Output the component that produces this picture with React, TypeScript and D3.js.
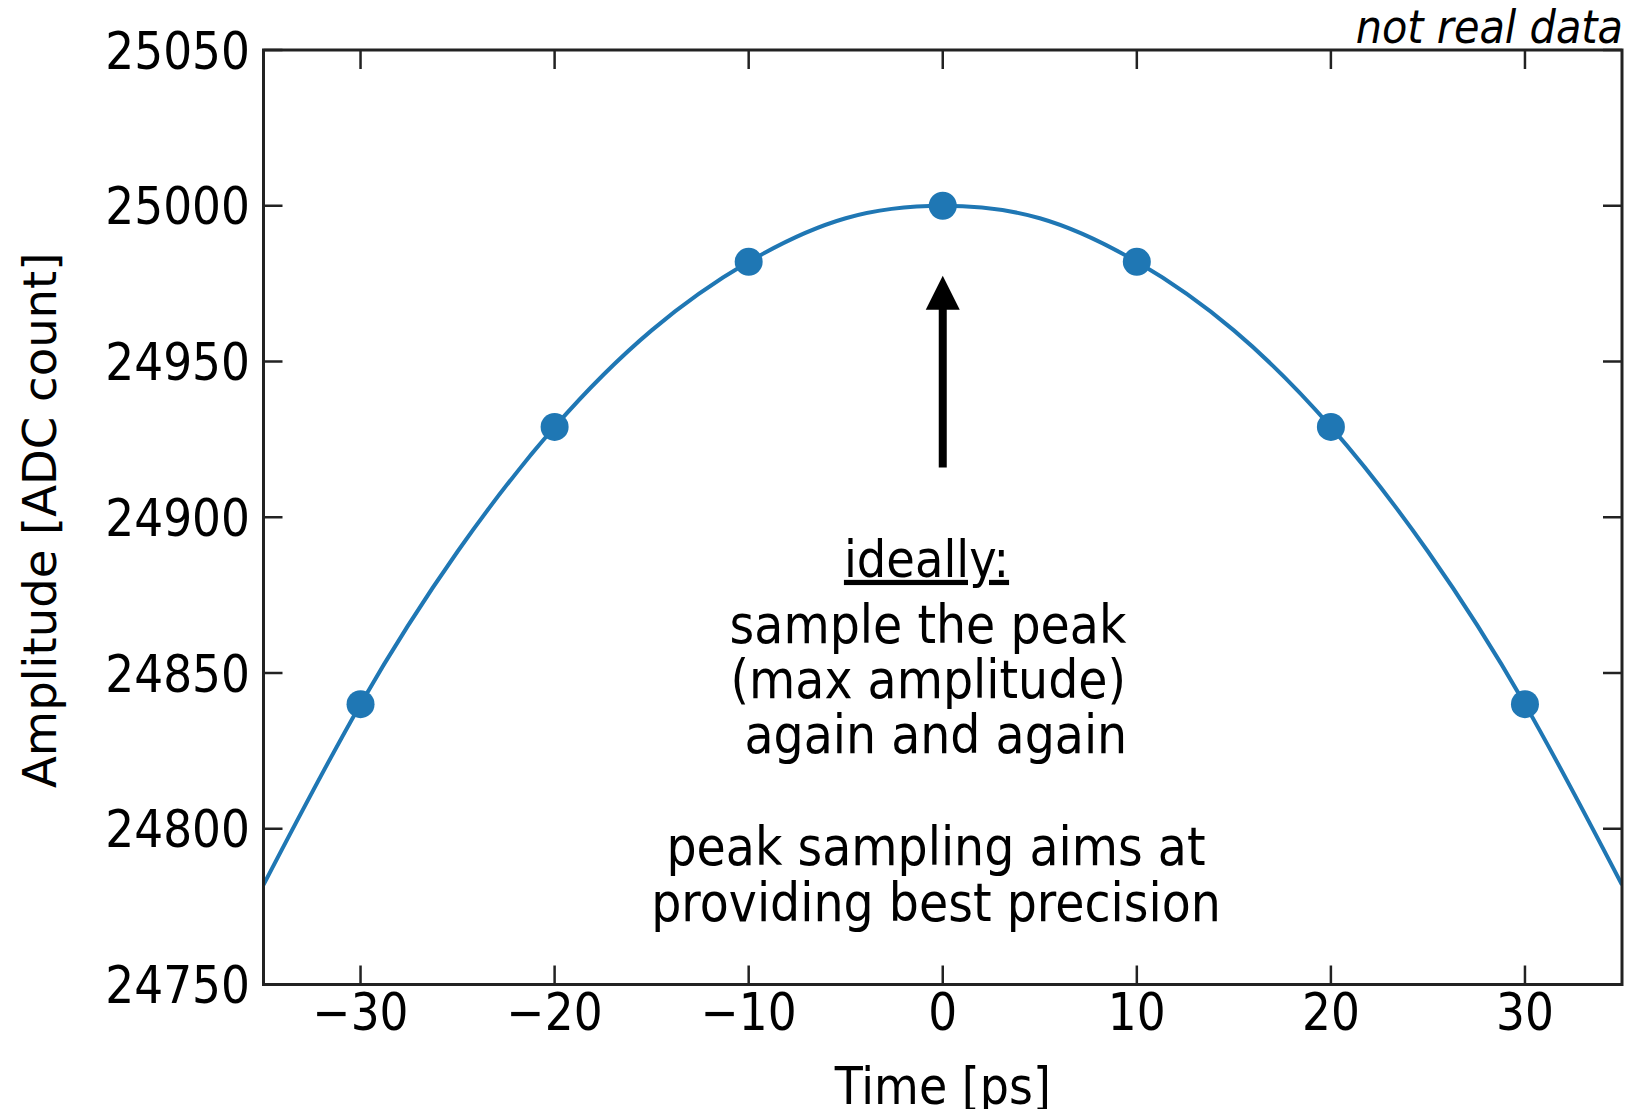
import React from "react";
import * as d3 from "d3";

// ---- data ----
const sampleTimes = [-30, -20, -10, 0, 10, 20, 30];
const sampleAmps = [24840, 24929, 24982, 25000, 24982, 24929, 24840];
const curveTimes = [-35, -30, -25, -20, -15, -10, -5, 0, 5, 10, 15, 20, 25, 30, 35];
const curveAmps = [24782, 24840, 24889, 24929, 24960, 24982, 24996, 25000, 24996, 24982, 24960, 24929, 24889, 24840, 24782];
const xTicks = [-30, -20, -10, 0, 10, 20, 30];
const yTicks = [24750, 24800, 24850, 24900, 24950, 25000, 25050];
const arrowFrom = 24916;
const arrowTo = 24977.5;
const annotationLines = ["sample the peak", "(max amplitude)", "again and again", "peak sampling aims at", "providing best precision"];

const W = 1628;
const H = 1109;
const left = 263.5;
const right = 1622;
const top = 50;
const bottom = 984.5;
const BLUE = "#1f77b4";
const FONT = "'DejaVu Sans', sans-serif";
const SY = 1.12;

const fmtTick = (v: number) => (v < 0 ? "\u2212" + Math.abs(v) : String(v));

export default function App() {
  const x = d3.scaleLinear().domain([-35, 35]).range([left, right]);
  const y = d3.scaleLinear().domain([24750, 25050]).range([bottom, top]);
  const line = d3
    .line<number>()
    .x((_, i) => x(curveTimes[i]))
    .y((d) => y(d))
    .curve(d3.curveNatural);
  const pathD = line(curveAmps) || "";
  const tickLen = 19;

  const lineX = [928, 928.3, 935.8, 936, 936];
  const lineY = [643, 697.5, 752.5, 865, 921];

  const ax = x(0);
  const y0 = y(arrowFrom);
  const y1 = y(arrowTo);
  const headLen = 34;
  const headW = 17;

  return (
    <svg width={W} height={H} style={{ position: "absolute", left: 0, top: 0, background: "#fff" }}>
      <rect x={0} y={0} width={W} height={H} fill="#fff" />
      <defs>
        <clipPath id="plotclip">
          <rect x={left} y={top} width={right - left} height={bottom - top} />
        </clipPath>
      </defs>
      <g clipPath="url(#plotclip)">
        <path d={pathD} fill="none" stroke={BLUE} strokeWidth={4} />
        {sampleTimes.map((t, i) => (
          <circle key={t} cx={x(t)} cy={y(sampleAmps[i])} r={14} fill={BLUE} />
        ))}
      </g>
      {/* ticks */}
      {xTicks.map((t) => (
        <g key={"xt" + t}>
          <line x1={x(t)} x2={x(t)} y1={bottom} y2={bottom - tickLen} stroke="#222" strokeWidth={2.5} />
          <line x1={x(t)} x2={x(t)} y1={top} y2={top + tickLen} stroke="#222" strokeWidth={2.5} />
          <text
            transform={`translate(${x(t)},${1030}) scale(1,${SY})`}
            textAnchor="middle"
            fontFamily={FONT}
            fontSize={45.5}
            fill="#000"
          >
            {fmtTick(t)}
          </text>
        </g>
      ))}
      {yTicks.map((v) => (
        <g key={"yt" + v}>
          <line x1={left} x2={left + tickLen} y1={y(v)} y2={y(v)} stroke="#222" strokeWidth={2.5} />
          <line x1={right} x2={right - tickLen} y1={y(v)} y2={y(v)} stroke="#222" strokeWidth={2.5} />
          <text
            transform={`translate(${250},${y(v) + 18.5}) scale(1,${SY})`}
            textAnchor="end"
            fontFamily={FONT}
            fontSize={45.5}
            fill="#000"
          >
            {v}
          </text>
        </g>
      ))}
      {/* spines */}
      <rect x={left} y={top} width={right - left} height={bottom - top} fill="none" stroke="#222" strokeWidth={3} />
      {/* axis labels */}
      <text
        transform={`translate(${(left + right) / 2},${1104}) scale(1,${SY})`}
        textAnchor="middle"
        fontFamily={FONT}
        fontSize={46}
        fill="#000"
      >
        Time [ps]
      </text>
      <text
        transform={`translate(${56},${(top + bottom) / 2 + 3}) rotate(-90)`}
        textAnchor="middle"
        fontFamily={FONT}
        fontSize={46.5}
        fill="#000"
      >
        Amplitude [ADC count]
      </text>
      <text
        transform={`translate(${1623},${43}) scale(1,${SY})`}
        textAnchor="end"
        fontFamily={FONT}
        fontStyle="italic"
        fontSize={41.5}
        fill="#000"
      >
        not real data
      </text>
      {/* arrow */}
      <line x1={ax} x2={ax} y1={y0} y2={y1 + headLen - 1} stroke="#000" strokeWidth={8} />
      <polygon
        points={`${ax},${y1} ${ax - headW},${y1 + headLen} ${ax + headW},${y1 + headLen}`}
        fill="#000"
      />
      {/* annotation */}
      <text
        transform={`translate(${926.5},${576.7}) scale(1,${SY})`}
        textAnchor="middle"
        fontFamily={FONT}
        fontSize={46.5}
        fill="#000"
        textDecoration="underline"
      >
        ideally:
      </text>
      {annotationLines.map((s, i) => (
        <text
          key={s}
          transform={`translate(${lineX[i]},${lineY[i]}) scale(1,${SY})`}
          textAnchor="middle"
          fontFamily={FONT}
          fontSize={47.5}
          fill="#000"
        >
          {s}
        </text>
      ))}
    </svg>
  );
}
